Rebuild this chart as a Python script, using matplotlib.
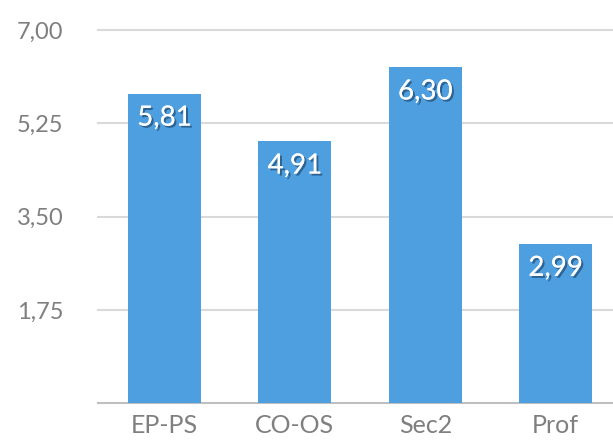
import matplotlib.pyplot as plt
import matplotlib.patheffects as pe

categories = ["EP-PS", "CO-OS", "Sec2", "Prof"]
values = [5.81, 4.91, 6.30, 2.99]
labels = ["5,81", "4,91", "6,30", "2,99"]
yticks = [1.75, 3.50, 5.25, 7.00]
ytick_labels = ["1,75", "3,50", "5,25", "7,00"]

plt.rcParams['font.family'] = ['Lato', 'DejaVu Sans']

fig = plt.figure(figsize=(6.13, 4.43), dpi=100)
ax = fig.add_axes([0.16, 0.09, 0.84, 0.842])

x = range(len(categories))
ax.bar(x, values, width=0.56, color="#4e9fdf", zorder=3)

shadow = [pe.withSimplePatchShadow(offset=(1.5, -1.5), shadow_rgbFace="#1a3a5c", alpha=0.6), pe.Normal()]
for i, (v, lab) in enumerate(zip(values, labels)):
    ax.annotate(lab, (i, v), xytext=(0, -24), textcoords="offset pixels",
                ha="center", va="center", color="white", fontsize=20, path_effects=shadow, zorder=4)

ax.set_xlim(-0.51, 3.44)
ax.set_ylim(0, 7.0)
ax.set_yticks(yticks)
ax.set_yticklabels(ytick_labels)
ax.set_xticks(list(x))
ax.set_xticklabels(categories)
ax.yaxis.grid(True, color="#d9d9d9", linewidth=1.5, zorder=0)
for ln in ax.get_ygridlines():
    ln.set_clip_on(False)
for s in ["top", "right", "left"]:
    ax.spines[s].set_visible(False)
ax.spines["bottom"].set_color("#bfbfbf")
ax.spines["bottom"].set_linewidth(1.5)
ax.tick_params(axis="both", length=0, labelcolor="#7f7f7f")
ax.tick_params(axis="y", labelsize=17, pad=25)
ax.tick_params(axis="x", labelsize=18, pad=8)

fig.savefig("out.png", dpi=100)
